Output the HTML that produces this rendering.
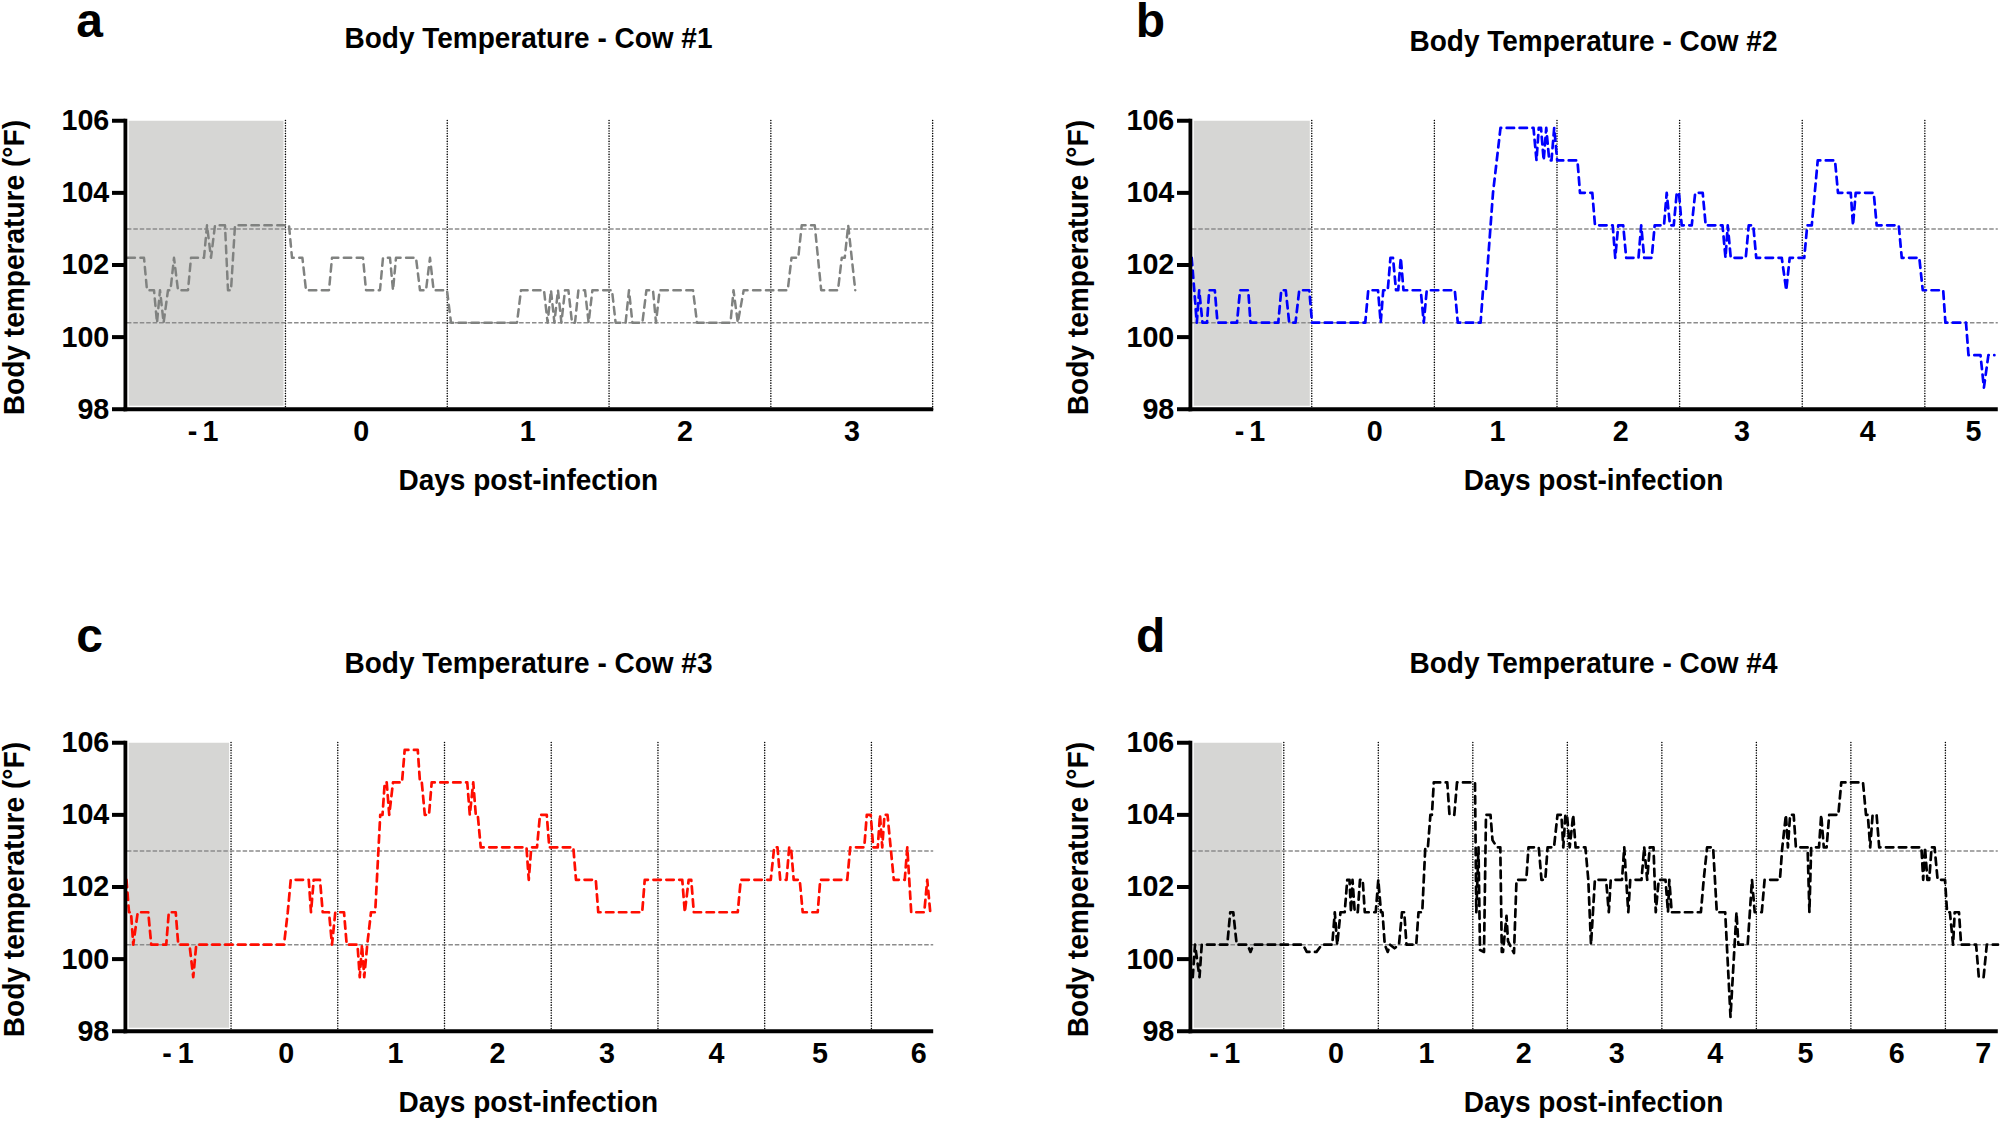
<!DOCTYPE html>
<html><head><meta charset="utf-8"><title>Body Temperature</title>
<style>html,body{margin:0;padding:0;background:#fff}svg{display:block}</style>
</head><body>
<svg width="2000" height="1121" viewBox="0 0 2000 1121">
<rect x="0" y="0" width="2000" height="1121" fill="#ffffff"/>
<rect x="128.80" y="120.75" width="154.70" height="284.98" fill="#d6d6d4"/>
<line x1="285.45" y1="120.50" x2="285.45" y2="409.23" stroke="#000" stroke-width="1.5" stroke-linecap="round" stroke-dasharray="0.1 2.5"/>
<line x1="447.25" y1="120.50" x2="447.25" y2="409.23" stroke="#000" stroke-width="1.5" stroke-linecap="round" stroke-dasharray="0.1 2.5"/>
<line x1="609.05" y1="120.50" x2="609.05" y2="409.23" stroke="#000" stroke-width="1.5" stroke-linecap="round" stroke-dasharray="0.1 2.5"/>
<line x1="770.85" y1="120.50" x2="770.85" y2="409.23" stroke="#000" stroke-width="1.5" stroke-linecap="round" stroke-dasharray="0.1 2.5"/>
<line x1="932.65" y1="120.50" x2="932.65" y2="409.23" stroke="#000" stroke-width="1.5" stroke-linecap="round" stroke-dasharray="0.1 2.5"/>
<line x1="126.90" y1="228.93" x2="933.20" y2="228.93" stroke="#8c8c8c" stroke-width="1.6" stroke-dasharray="4.5 1.93"/>
<line x1="126.90" y1="322.69" x2="933.20" y2="322.69" stroke="#8c8c8c" stroke-width="1.6" stroke-dasharray="4.5 1.93"/>
<path d="M127.50 257.78 L144.00 257.78 L147.00 290.23 L154.00 290.23 L157.00 322.69 L160.00 290.23 L163.60 322.69 L168.00 290.23 L170.50 290.23 L174.00 257.78 L178.00 290.23 L188.00 290.23 L191.00 257.78 L204.00 257.78 L207.00 225.32 L211.00 257.78 L215.00 225.32 L225.00 225.32 L228.00 290.23 L231.00 290.23 L235.00 225.32 L289.00 225.32 L292.00 257.78 L302.40 257.78 L306.00 290.23 L329.00 290.23 L332.00 257.78 L363.00 257.78 L366.00 290.23 L380.00 290.23 L383.00 257.78 L390.00 257.78 L393.00 290.23 L396.00 257.78 L416.00 257.78 L420.00 290.23 L426.00 290.23 L430.00 257.78 L433.60 290.23 L447.00 290.23 L451.00 322.69 L517.00 322.69 L521.00 290.23 L544.00 290.23 L547.60 322.69 L551.00 290.23 L554.40 322.69 L558.00 290.23 L561.40 322.69 L565.00 290.23 L568.40 290.23 L572.00 322.69 L575.00 322.69 L578.40 290.23 L585.00 290.23 L588.60 322.69 L592.40 290.23 L612.00 290.23 L615.60 322.69 L625.60 322.69 L629.00 290.23 L632.40 322.69 L642.40 322.69 L646.40 290.23 L653.00 290.23 L656.00 322.69 L659.60 290.23 L693.00 290.23 L697.00 322.69 L730.50 322.69 L733.50 290.23 L737.80 322.69 L743.70 290.23 L787.75 290.23 L791.50 257.78 L798.25 257.78 L801.70 225.32 L814.75 225.32 L821.20 290.23 L838.00 290.23 L841.75 257.78 L844.75 257.78 L848.20 225.32 L855.25 290.23" fill="none" stroke="#808280" stroke-width="2.50" stroke-dasharray="7.4 5.5" stroke-linecap="round" stroke-linejoin="round"/>
<line x1="125.40" y1="118.75" x2="125.40" y2="411.23" stroke="#000" stroke-width="3.8"/>
<line x1="123.50" y1="409.23" x2="933.20" y2="409.23" stroke="#000" stroke-width="4"/>
<line x1="112.00" y1="120.75" x2="125.40" y2="120.75" stroke="#000" stroke-width="4"/>
<text transform="translate(109.30 130.15) scale(1 1.060)" text-anchor="end" font-size="28.7" font-family="Liberation Sans, Arial, Helvetica, sans-serif" font-weight="bold">106</text>
<line x1="112.00" y1="192.87" x2="125.40" y2="192.87" stroke="#000" stroke-width="4"/>
<text transform="translate(109.30 202.27) scale(1 1.060)" text-anchor="end" font-size="28.7" font-family="Liberation Sans, Arial, Helvetica, sans-serif" font-weight="bold">104</text>
<line x1="112.00" y1="264.99" x2="125.40" y2="264.99" stroke="#000" stroke-width="4"/>
<text transform="translate(109.30 274.39) scale(1 1.060)" text-anchor="end" font-size="28.7" font-family="Liberation Sans, Arial, Helvetica, sans-serif" font-weight="bold">102</text>
<line x1="112.00" y1="337.11" x2="125.40" y2="337.11" stroke="#000" stroke-width="4"/>
<text transform="translate(109.30 346.51) scale(1 1.060)" text-anchor="end" font-size="28.7" font-family="Liberation Sans, Arial, Helvetica, sans-serif" font-weight="bold">100</text>
<line x1="112.00" y1="409.23" x2="125.40" y2="409.23" stroke="#000" stroke-width="4"/>
<text transform="translate(109.30 418.63) scale(1 1.060)" text-anchor="end" font-size="28.7" font-family="Liberation Sans, Arial, Helvetica, sans-serif" font-weight="bold">98</text>
<text transform="translate(0 440.50) scale(1 1.050)" font-size="28.7" font-family="Liberation Sans, Arial, Helvetica, sans-serif" font-weight="bold"><tspan x="187.85">- </tspan><tspan x="202.48">1</tspan></text>
<text transform="translate(361.30 440.50) scale(1 1.050)" text-anchor="middle" font-size="28.7" font-family="Liberation Sans, Arial, Helvetica, sans-serif" font-weight="bold">0</text>
<text transform="translate(527.60 440.50) scale(1 1.050)" text-anchor="middle" font-size="28.7" font-family="Liberation Sans, Arial, Helvetica, sans-serif" font-weight="bold">1</text>
<text transform="translate(685.00 440.50) scale(1 1.050)" text-anchor="middle" font-size="28.7" font-family="Liberation Sans, Arial, Helvetica, sans-serif" font-weight="bold">2</text>
<text transform="translate(852.00 440.50) scale(1 1.050)" text-anchor="middle" font-size="28.7" font-family="Liberation Sans, Arial, Helvetica, sans-serif" font-weight="bold">3</text>
<text transform="translate(398.50 490.00) scale(1 1.040)" font-size="28" font-family="Liberation Sans, Arial, Helvetica, sans-serif" font-weight="bold">Days post-infection</text>
<text transform="translate(23.50 267.59) rotate(-90) scale(1 1.040)" text-anchor="middle" font-size="28.1" font-family="Liberation Sans, Arial, Helvetica, sans-serif" font-weight="bold">Body temperature (°F)</text>
<text transform="translate(344.50 48.00) scale(1 1.040)" font-size="28" font-family="Liberation Sans, Arial, Helvetica, sans-serif" font-weight="bold">Body Temperature - Cow #1</text>
<text x="76.30" y="36.60" font-size="48" font-family="Liberation Sans, Arial, Helvetica, sans-serif" font-weight="bold">a</text>
<rect x="1193.80" y="120.75" width="116.00" height="284.98" fill="#d6d6d4"/>
<line x1="1311.75" y1="120.50" x2="1311.75" y2="409.23" stroke="#000" stroke-width="1.5" stroke-linecap="round" stroke-dasharray="0.1 2.5"/>
<line x1="1434.37" y1="120.50" x2="1434.37" y2="409.23" stroke="#000" stroke-width="1.5" stroke-linecap="round" stroke-dasharray="0.1 2.5"/>
<line x1="1556.99" y1="120.50" x2="1556.99" y2="409.23" stroke="#000" stroke-width="1.5" stroke-linecap="round" stroke-dasharray="0.1 2.5"/>
<line x1="1679.61" y1="120.50" x2="1679.61" y2="409.23" stroke="#000" stroke-width="1.5" stroke-linecap="round" stroke-dasharray="0.1 2.5"/>
<line x1="1802.23" y1="120.50" x2="1802.23" y2="409.23" stroke="#000" stroke-width="1.5" stroke-linecap="round" stroke-dasharray="0.1 2.5"/>
<line x1="1924.85" y1="120.50" x2="1924.85" y2="409.23" stroke="#000" stroke-width="1.5" stroke-linecap="round" stroke-dasharray="0.1 2.5"/>
<line x1="1191.90" y1="228.93" x2="1997.80" y2="228.93" stroke="#8c8c8c" stroke-width="1.6" stroke-dasharray="4.5 1.93"/>
<line x1="1191.90" y1="322.69" x2="1997.80" y2="322.69" stroke="#8c8c8c" stroke-width="1.6" stroke-dasharray="4.5 1.93"/>
<path d="M1191.70 257.78 L1196.80 322.69 L1199.20 290.23 L1202.50 322.69 L1207.00 322.69 L1209.25 290.23 L1214.80 290.23 L1217.50 322.69 L1237.00 322.69 L1240.00 290.23 L1248.25 290.23 L1250.50 322.69 L1278.25 322.69 L1281.25 290.23 L1285.75 290.23 L1289.20 322.69 L1295.50 322.69 L1299.25 290.23 L1309.30 290.23 L1312.00 322.69 L1365.25 322.69 L1368.25 290.23 L1378.00 290.23 L1380.70 322.69 L1383.25 290.23 L1387.75 290.23 L1390.45 257.78 L1393.00 257.78 L1396.00 290.23 L1398.25 290.23 L1400.80 257.78 L1403.50 290.23 L1420.75 290.23 L1423.75 322.69 L1426.75 290.23 L1454.80 290.23 L1457.80 322.69 L1480.60 322.69 L1483.00 290.23 L1485.80 290.23 L1493.00 192.87 L1500.50 127.96 L1533.50 127.96 L1536.50 160.42 L1538.75 127.96 L1541.00 127.96 L1543.70 160.42 L1546.25 127.96 L1549.25 160.42 L1551.50 160.42 L1554.20 127.96 L1557.20 160.42 L1577.45 160.42 L1580.00 192.87 L1592.30 192.87 L1595.00 225.32 L1612.70 225.32 L1615.25 257.78 L1618.25 225.32 L1623.20 225.32 L1626.20 257.78 L1638.50 257.78 L1641.20 225.32 L1644.20 257.78 L1651.70 257.78 L1654.70 225.32 L1664.00 225.32 L1666.70 192.87 L1670.00 225.32 L1673.75 225.32 L1676.75 192.87 L1679.00 192.87 L1681.70 225.32 L1691.75 225.32 L1695.20 192.87 L1702.70 192.87 L1705.70 225.32 L1722.50 225.32 L1725.50 257.78 L1727.75 225.32 L1730.75 257.78 L1745.75 257.78 L1748.75 225.32 L1753.25 225.32 L1756.25 257.78 L1781.75 257.78 L1786.25 290.23 L1789.70 257.78 L1804.25 257.78 L1807.25 225.32 L1811.75 225.32 L1817.75 160.42 L1835.00 160.42 L1838.00 192.87 L1850.75 192.87 L1853.00 225.32 L1855.70 192.87 L1873.70 192.87 L1876.70 225.32 L1898.75 225.32 L1901.75 257.78 L1919.30 257.78 L1922.75 290.23 L1943.20 290.23 L1945.40 322.69 L1966.00 322.69 L1968.50 355.14 L1980.50 355.14 L1983.90 387.59 L1988.40 355.14 L1994.40 355.14" fill="none" stroke="#0000ff" stroke-width="2.70" stroke-dasharray="7.4 5.5" stroke-linecap="round" stroke-linejoin="round"/>
<line x1="1190.40" y1="118.75" x2="1190.40" y2="411.23" stroke="#000" stroke-width="3.8"/>
<line x1="1188.50" y1="409.23" x2="1997.80" y2="409.23" stroke="#000" stroke-width="4"/>
<line x1="1177.00" y1="120.75" x2="1190.40" y2="120.75" stroke="#000" stroke-width="4"/>
<text transform="translate(1174.30 130.15) scale(1 1.060)" text-anchor="end" font-size="28.7" font-family="Liberation Sans, Arial, Helvetica, sans-serif" font-weight="bold">106</text>
<line x1="1177.00" y1="192.87" x2="1190.40" y2="192.87" stroke="#000" stroke-width="4"/>
<text transform="translate(1174.30 202.27) scale(1 1.060)" text-anchor="end" font-size="28.7" font-family="Liberation Sans, Arial, Helvetica, sans-serif" font-weight="bold">104</text>
<line x1="1177.00" y1="264.99" x2="1190.40" y2="264.99" stroke="#000" stroke-width="4"/>
<text transform="translate(1174.30 274.39) scale(1 1.060)" text-anchor="end" font-size="28.7" font-family="Liberation Sans, Arial, Helvetica, sans-serif" font-weight="bold">102</text>
<line x1="1177.00" y1="337.11" x2="1190.40" y2="337.11" stroke="#000" stroke-width="4"/>
<text transform="translate(1174.30 346.51) scale(1 1.060)" text-anchor="end" font-size="28.7" font-family="Liberation Sans, Arial, Helvetica, sans-serif" font-weight="bold">100</text>
<line x1="1177.00" y1="409.23" x2="1190.40" y2="409.23" stroke="#000" stroke-width="4"/>
<text transform="translate(1174.30 418.63) scale(1 1.060)" text-anchor="end" font-size="28.7" font-family="Liberation Sans, Arial, Helvetica, sans-serif" font-weight="bold">98</text>
<text transform="translate(0 440.50) scale(1 1.050)" font-size="28.7" font-family="Liberation Sans, Arial, Helvetica, sans-serif" font-weight="bold"><tspan x="1234.85">- </tspan><tspan x="1249.28">1</tspan></text>
<text transform="translate(1374.60 440.50) scale(1 1.050)" text-anchor="middle" font-size="28.7" font-family="Liberation Sans, Arial, Helvetica, sans-serif" font-weight="bold">0</text>
<text transform="translate(1497.50 440.50) scale(1 1.050)" text-anchor="middle" font-size="28.7" font-family="Liberation Sans, Arial, Helvetica, sans-serif" font-weight="bold">1</text>
<text transform="translate(1620.60 440.50) scale(1 1.050)" text-anchor="middle" font-size="28.7" font-family="Liberation Sans, Arial, Helvetica, sans-serif" font-weight="bold">2</text>
<text transform="translate(1742.00 440.50) scale(1 1.050)" text-anchor="middle" font-size="28.7" font-family="Liberation Sans, Arial, Helvetica, sans-serif" font-weight="bold">3</text>
<text transform="translate(1867.60 440.50) scale(1 1.050)" text-anchor="middle" font-size="28.7" font-family="Liberation Sans, Arial, Helvetica, sans-serif" font-weight="bold">4</text>
<text transform="translate(1973.40 440.50) scale(1 1.050)" text-anchor="middle" font-size="28.7" font-family="Liberation Sans, Arial, Helvetica, sans-serif" font-weight="bold">5</text>
<text transform="translate(1463.70 490.00) scale(1 1.040)" font-size="28" font-family="Liberation Sans, Arial, Helvetica, sans-serif" font-weight="bold">Days post-infection</text>
<text transform="translate(1088.00 267.59) rotate(-90) scale(1 1.040)" text-anchor="middle" font-size="28.1" font-family="Liberation Sans, Arial, Helvetica, sans-serif" font-weight="bold">Body temperature (°F)</text>
<text transform="translate(1409.50 51.00) scale(1 1.040)" font-size="28" font-family="Liberation Sans, Arial, Helvetica, sans-serif" font-weight="bold">Body Temperature - Cow #2</text>
<text x="1135.70" y="36.60" font-size="48" font-family="Liberation Sans, Arial, Helvetica, sans-serif" font-weight="bold">b</text>
<rect x="128.80" y="742.75" width="100.30" height="284.98" fill="#d6d6d4"/>
<line x1="231.04" y1="742.50" x2="231.04" y2="1031.23" stroke="#000" stroke-width="1.5" stroke-linecap="round" stroke-dasharray="0.1 2.5"/>
<line x1="337.77" y1="742.50" x2="337.77" y2="1031.23" stroke="#000" stroke-width="1.5" stroke-linecap="round" stroke-dasharray="0.1 2.5"/>
<line x1="444.50" y1="742.50" x2="444.50" y2="1031.23" stroke="#000" stroke-width="1.5" stroke-linecap="round" stroke-dasharray="0.1 2.5"/>
<line x1="551.23" y1="742.50" x2="551.23" y2="1031.23" stroke="#000" stroke-width="1.5" stroke-linecap="round" stroke-dasharray="0.1 2.5"/>
<line x1="657.96" y1="742.50" x2="657.96" y2="1031.23" stroke="#000" stroke-width="1.5" stroke-linecap="round" stroke-dasharray="0.1 2.5"/>
<line x1="764.69" y1="742.50" x2="764.69" y2="1031.23" stroke="#000" stroke-width="1.5" stroke-linecap="round" stroke-dasharray="0.1 2.5"/>
<line x1="871.42" y1="742.50" x2="871.42" y2="1031.23" stroke="#000" stroke-width="1.5" stroke-linecap="round" stroke-dasharray="0.1 2.5"/>
<line x1="126.90" y1="850.93" x2="933.20" y2="850.93" stroke="#8c8c8c" stroke-width="1.6" stroke-dasharray="4.5 1.93"/>
<line x1="126.90" y1="944.69" x2="933.20" y2="944.69" stroke="#8c8c8c" stroke-width="1.6" stroke-dasharray="4.5 1.93"/>
<path d="M126.50 879.78 L129.00 912.23 L131.00 912.23 L133.25 944.69 L137.75 912.23 L148.25 912.23 L151.25 944.69 L166.25 944.69 L168.80 912.23 L175.70 912.23 L178.25 944.69 L189.50 944.69 L193.25 977.14 L196.25 944.69 L284.00 944.69 L287.75 912.23 L290.75 879.78 L308.75 879.78 L311.00 912.23 L313.70 879.78 L320.00 879.78 L322.70 912.23 L329.00 912.23 L332.00 944.69 L335.30 912.23 L344.00 912.23 L346.70 944.69 L357.50 944.69 L359.75 977.14 L362.00 944.69 L364.25 977.14 L367.25 944.69 L371.00 912.23 L375.20 912.23 L380.25 814.87 L382.50 814.87 L384.75 782.42 L386.70 782.42 L389.25 814.87 L393.00 782.42 L402.00 782.42 L404.70 749.96 L417.75 749.96 L420.00 782.42 L421.80 782.42 L424.80 814.87 L429.00 814.87 L431.70 782.42 L467.25 782.42 L469.80 814.87 L473.25 782.42 L475.80 814.87 L477.75 814.87 L480.75 847.32 L526.50 847.32 L528.75 879.78 L531.30 847.32 L537.00 847.32 L540.00 814.87 L546.75 814.87 L549.30 847.32 L573.30 847.32 L576.00 879.78 L595.80 879.78 L598.25 912.23 L642.20 912.23 L644.75 879.78 L682.25 879.78 L684.80 912.23 L688.70 879.78 L691.25 879.78 L693.80 912.23 L737.75 912.23 L740.75 879.78 L770.75 879.78 L774.20 847.32 L777.50 847.32 L780.20 879.78 L786.50 879.78 L789.20 847.32 L791.00 847.32 L793.70 879.78 L799.70 879.78 L802.70 912.23 L817.70 912.23 L820.25 879.78 L847.25 879.78 L850.25 847.32 L864.25 847.32 L866.80 814.87 L870.70 814.87 L873.25 847.32 L877.75 847.32 L880.00 814.87 L882.25 847.32 L884.50 814.87 L887.50 814.87 L893.80 879.78 L904.75 879.78 L907.30 847.32 L911.20 912.23 L924.25 912.23 L927.25 879.78 L930.25 912.23 L932.50 912.23" fill="none" stroke="#ff0d00" stroke-width="2.70" stroke-dasharray="7.4 5.5" stroke-linecap="round" stroke-linejoin="round"/>
<line x1="125.40" y1="740.75" x2="125.40" y2="1033.23" stroke="#000" stroke-width="3.8"/>
<line x1="123.50" y1="1031.23" x2="933.20" y2="1031.23" stroke="#000" stroke-width="4"/>
<line x1="112.00" y1="742.75" x2="125.40" y2="742.75" stroke="#000" stroke-width="4"/>
<text transform="translate(109.30 752.15) scale(1 1.060)" text-anchor="end" font-size="28.7" font-family="Liberation Sans, Arial, Helvetica, sans-serif" font-weight="bold">106</text>
<line x1="112.00" y1="814.87" x2="125.40" y2="814.87" stroke="#000" stroke-width="4"/>
<text transform="translate(109.30 824.27) scale(1 1.060)" text-anchor="end" font-size="28.7" font-family="Liberation Sans, Arial, Helvetica, sans-serif" font-weight="bold">104</text>
<line x1="112.00" y1="886.99" x2="125.40" y2="886.99" stroke="#000" stroke-width="4"/>
<text transform="translate(109.30 896.39) scale(1 1.060)" text-anchor="end" font-size="28.7" font-family="Liberation Sans, Arial, Helvetica, sans-serif" font-weight="bold">102</text>
<line x1="112.00" y1="959.11" x2="125.40" y2="959.11" stroke="#000" stroke-width="4"/>
<text transform="translate(109.30 968.51) scale(1 1.060)" text-anchor="end" font-size="28.7" font-family="Liberation Sans, Arial, Helvetica, sans-serif" font-weight="bold">100</text>
<line x1="112.00" y1="1031.23" x2="125.40" y2="1031.23" stroke="#000" stroke-width="4"/>
<text transform="translate(109.30 1040.63) scale(1 1.060)" text-anchor="end" font-size="28.7" font-family="Liberation Sans, Arial, Helvetica, sans-serif" font-weight="bold">98</text>
<text transform="translate(0 1063.00) scale(1 1.050)" font-size="28.7" font-family="Liberation Sans, Arial, Helvetica, sans-serif" font-weight="bold"><tspan x="162.25">- </tspan><tspan x="177.68">1</tspan></text>
<text transform="translate(286.10 1063.00) scale(1 1.050)" text-anchor="middle" font-size="28.7" font-family="Liberation Sans, Arial, Helvetica, sans-serif" font-weight="bold">0</text>
<text transform="translate(395.40 1063.00) scale(1 1.050)" text-anchor="middle" font-size="28.7" font-family="Liberation Sans, Arial, Helvetica, sans-serif" font-weight="bold">1</text>
<text transform="translate(497.40 1063.00) scale(1 1.050)" text-anchor="middle" font-size="28.7" font-family="Liberation Sans, Arial, Helvetica, sans-serif" font-weight="bold">2</text>
<text transform="translate(607.00 1063.00) scale(1 1.050)" text-anchor="middle" font-size="28.7" font-family="Liberation Sans, Arial, Helvetica, sans-serif" font-weight="bold">3</text>
<text transform="translate(716.50 1063.00) scale(1 1.050)" text-anchor="middle" font-size="28.7" font-family="Liberation Sans, Arial, Helvetica, sans-serif" font-weight="bold">4</text>
<text transform="translate(820.00 1063.00) scale(1 1.050)" text-anchor="middle" font-size="28.7" font-family="Liberation Sans, Arial, Helvetica, sans-serif" font-weight="bold">5</text>
<text transform="translate(918.60 1063.00) scale(1 1.050)" text-anchor="middle" font-size="28.7" font-family="Liberation Sans, Arial, Helvetica, sans-serif" font-weight="bold">6</text>
<text transform="translate(398.50 1112.00) scale(1 1.040)" font-size="28" font-family="Liberation Sans, Arial, Helvetica, sans-serif" font-weight="bold">Days post-infection</text>
<text transform="translate(23.50 889.59) rotate(-90) scale(1 1.040)" text-anchor="middle" font-size="28.1" font-family="Liberation Sans, Arial, Helvetica, sans-serif" font-weight="bold">Body temperature (°F)</text>
<text transform="translate(344.50 673.00) scale(1 1.040)" font-size="28" font-family="Liberation Sans, Arial, Helvetica, sans-serif" font-weight="bold">Body Temperature - Cow #3</text>
<text x="76.20" y="652.45" font-size="48" font-family="Liberation Sans, Arial, Helvetica, sans-serif" font-weight="bold">c</text>
<rect x="1193.80" y="742.75" width="88.05" height="284.98" fill="#d6d6d4"/>
<line x1="1283.80" y1="742.50" x2="1283.80" y2="1031.23" stroke="#000" stroke-width="1.5" stroke-linecap="round" stroke-dasharray="0.1 2.5"/>
<line x1="1378.31" y1="742.50" x2="1378.31" y2="1031.23" stroke="#000" stroke-width="1.5" stroke-linecap="round" stroke-dasharray="0.1 2.5"/>
<line x1="1472.83" y1="742.50" x2="1472.83" y2="1031.23" stroke="#000" stroke-width="1.5" stroke-linecap="round" stroke-dasharray="0.1 2.5"/>
<line x1="1567.34" y1="742.50" x2="1567.34" y2="1031.23" stroke="#000" stroke-width="1.5" stroke-linecap="round" stroke-dasharray="0.1 2.5"/>
<line x1="1661.86" y1="742.50" x2="1661.86" y2="1031.23" stroke="#000" stroke-width="1.5" stroke-linecap="round" stroke-dasharray="0.1 2.5"/>
<line x1="1756.37" y1="742.50" x2="1756.37" y2="1031.23" stroke="#000" stroke-width="1.5" stroke-linecap="round" stroke-dasharray="0.1 2.5"/>
<line x1="1850.89" y1="742.50" x2="1850.89" y2="1031.23" stroke="#000" stroke-width="1.5" stroke-linecap="round" stroke-dasharray="0.1 2.5"/>
<line x1="1945.40" y1="742.50" x2="1945.40" y2="1031.23" stroke="#000" stroke-width="1.5" stroke-linecap="round" stroke-dasharray="0.1 2.5"/>
<line x1="1191.90" y1="850.93" x2="1997.80" y2="850.93" stroke="#8c8c8c" stroke-width="1.6" stroke-dasharray="4.5 1.93"/>
<line x1="1191.90" y1="944.69" x2="1997.80" y2="944.69" stroke="#8c8c8c" stroke-width="1.6" stroke-dasharray="4.5 1.93"/>
<path d="M1192.75 977.14 L1195.00 944.69 L1199.50 977.14 L1201.75 944.69 L1227.25 944.69 L1230.25 912.23 L1233.25 912.23 L1236.70 944.69 L1247.50 944.69 L1250.50 951.90 L1253.50 944.69 L1303.00 944.69 L1306.75 951.90 L1316.50 951.90 L1321.75 944.69 L1332.25 944.69 L1334.80 912.23 L1337.20 944.69 L1340.50 912.23 L1344.70 912.23 L1347.25 879.78 L1349.50 879.78 L1351.00 912.23 L1352.50 879.78 L1354.75 912.23 L1357.75 912.23 L1360.00 879.78 L1362.70 879.78 L1364.80 912.23 L1375.75 912.23 L1378.30 879.78 L1381.00 912.23 L1382.50 912.23 L1384.75 944.69 L1387.75 951.90 L1390.00 944.69 L1394.50 948.29 L1399.00 944.69 L1402.00 912.23 L1404.25 912.23 L1406.50 944.69 L1416.25 944.69 L1418.50 912.23 L1422.25 912.23 L1425.30 847.32 L1427.90 847.32 L1430.40 814.87 L1431.90 814.87 L1433.80 782.42 L1447.25 782.42 L1449.50 814.87 L1454.30 814.87 L1457.00 782.42 L1475.00 782.42 L1476.30 912.23 L1478.50 847.32 L1480.00 950.10 L1484.00 951.90 L1486.00 814.87 L1490.50 814.87 L1492.50 840.11 L1497.00 847.32 L1500.30 847.32 L1501.80 951.90 L1503.00 951.90 L1506.50 915.84 L1508.00 941.08 L1511.40 948.29 L1514.00 952.98 L1516.50 879.78 L1526.30 879.78 L1528.50 847.32 L1538.75 847.32 L1541.50 879.78 L1545.30 879.78 L1547.60 847.32 L1554.00 847.32 L1557.50 814.87 L1561.40 814.87 L1563.30 847.32 L1565.40 814.87 L1567.00 814.87 L1569.70 847.32 L1573.20 814.87 L1575.60 847.32 L1585.40 847.32 L1588.30 879.78 L1591.00 944.69 L1594.90 879.78 L1606.10 879.78 L1608.80 912.23 L1610.75 879.78 L1622.00 879.78 L1624.25 847.32 L1626.20 879.78 L1628.30 912.23 L1630.25 879.78 L1641.50 879.78 L1644.20 847.32 L1647.20 879.78 L1649.75 847.32 L1653.50 847.32 L1655.75 912.23 L1658.75 879.78 L1665.50 879.78 L1668.00 912.23 L1669.30 879.78 L1671.70 912.23 L1700.90 912.23 L1703.70 879.78 L1707.10 847.32 L1713.10 847.32 L1716.80 912.23 L1725.20 912.23 L1730.50 1016.81 L1734.60 944.69 L1736.50 912.23 L1738.40 944.69 L1747.70 944.69 L1752.00 879.78 L1754.70 912.23 L1761.80 912.23 L1764.60 879.78 L1779.90 879.78 L1782.30 847.32 L1785.90 814.87 L1787.90 847.32 L1790.10 814.87 L1793.70 814.87 L1795.90 847.32 L1807.60 847.32 L1809.40 912.23 L1811.20 847.32 L1819.00 847.32 L1821.20 814.87 L1823.80 847.32 L1826.60 847.32 L1829.20 814.87 L1838.30 814.87 L1841.30 782.42 L1863.00 782.42 L1866.00 814.87 L1867.80 814.87 L1870.20 847.32 L1872.60 814.87 L1876.60 814.87 L1879.20 847.32 L1921.40 847.32 L1923.20 879.78 L1925.00 847.32 L1927.40 879.78 L1929.20 879.78 L1931.60 847.32 L1934.60 847.32 L1937.60 879.78 L1945.00 879.78 L1947.10 912.23 L1949.90 912.23 L1953.10 944.69 L1954.70 912.23 L1959.00 912.23 L1961.10 944.69 L1976.10 944.69 L1978.80 977.14 L1983.60 977.14 L1986.80 944.69 L1998.00 944.69" fill="none" stroke="#000000" stroke-width="2.70" stroke-dasharray="7.4 5.5" stroke-linecap="round" stroke-linejoin="round"/>
<line x1="1190.40" y1="740.75" x2="1190.40" y2="1033.23" stroke="#000" stroke-width="3.8"/>
<line x1="1188.50" y1="1031.23" x2="1997.80" y2="1031.23" stroke="#000" stroke-width="4"/>
<line x1="1177.00" y1="742.75" x2="1190.40" y2="742.75" stroke="#000" stroke-width="4"/>
<text transform="translate(1174.30 752.15) scale(1 1.060)" text-anchor="end" font-size="28.7" font-family="Liberation Sans, Arial, Helvetica, sans-serif" font-weight="bold">106</text>
<line x1="1177.00" y1="814.87" x2="1190.40" y2="814.87" stroke="#000" stroke-width="4"/>
<text transform="translate(1174.30 824.27) scale(1 1.060)" text-anchor="end" font-size="28.7" font-family="Liberation Sans, Arial, Helvetica, sans-serif" font-weight="bold">104</text>
<line x1="1177.00" y1="886.99" x2="1190.40" y2="886.99" stroke="#000" stroke-width="4"/>
<text transform="translate(1174.30 896.39) scale(1 1.060)" text-anchor="end" font-size="28.7" font-family="Liberation Sans, Arial, Helvetica, sans-serif" font-weight="bold">102</text>
<line x1="1177.00" y1="959.11" x2="1190.40" y2="959.11" stroke="#000" stroke-width="4"/>
<text transform="translate(1174.30 968.51) scale(1 1.060)" text-anchor="end" font-size="28.7" font-family="Liberation Sans, Arial, Helvetica, sans-serif" font-weight="bold">100</text>
<line x1="1177.00" y1="1031.23" x2="1190.40" y2="1031.23" stroke="#000" stroke-width="4"/>
<text transform="translate(1174.30 1040.63) scale(1 1.060)" text-anchor="end" font-size="28.7" font-family="Liberation Sans, Arial, Helvetica, sans-serif" font-weight="bold">98</text>
<text transform="translate(0 1063.00) scale(1 1.050)" font-size="28.7" font-family="Liberation Sans, Arial, Helvetica, sans-serif" font-weight="bold"><tspan x="1209.25">- </tspan><tspan x="1224.18">1</tspan></text>
<text transform="translate(1336.00 1063.00) scale(1 1.050)" text-anchor="middle" font-size="28.7" font-family="Liberation Sans, Arial, Helvetica, sans-serif" font-weight="bold">0</text>
<text transform="translate(1426.50 1063.00) scale(1 1.050)" text-anchor="middle" font-size="28.7" font-family="Liberation Sans, Arial, Helvetica, sans-serif" font-weight="bold">1</text>
<text transform="translate(1523.60 1063.00) scale(1 1.050)" text-anchor="middle" font-size="28.7" font-family="Liberation Sans, Arial, Helvetica, sans-serif" font-weight="bold">2</text>
<text transform="translate(1616.60 1063.00) scale(1 1.050)" text-anchor="middle" font-size="28.7" font-family="Liberation Sans, Arial, Helvetica, sans-serif" font-weight="bold">3</text>
<text transform="translate(1715.20 1063.00) scale(1 1.050)" text-anchor="middle" font-size="28.7" font-family="Liberation Sans, Arial, Helvetica, sans-serif" font-weight="bold">4</text>
<text transform="translate(1805.40 1063.00) scale(1 1.050)" text-anchor="middle" font-size="28.7" font-family="Liberation Sans, Arial, Helvetica, sans-serif" font-weight="bold">5</text>
<text transform="translate(1896.60 1063.00) scale(1 1.050)" text-anchor="middle" font-size="28.7" font-family="Liberation Sans, Arial, Helvetica, sans-serif" font-weight="bold">6</text>
<text transform="translate(1983.20 1063.00) scale(1 1.050)" text-anchor="middle" font-size="28.7" font-family="Liberation Sans, Arial, Helvetica, sans-serif" font-weight="bold">7</text>
<text transform="translate(1463.70 1112.00) scale(1 1.040)" font-size="28" font-family="Liberation Sans, Arial, Helvetica, sans-serif" font-weight="bold">Days post-infection</text>
<text transform="translate(1088.00 889.59) rotate(-90) scale(1 1.040)" text-anchor="middle" font-size="28.1" font-family="Liberation Sans, Arial, Helvetica, sans-serif" font-weight="bold">Body temperature (°F)</text>
<text transform="translate(1409.50 673.00) scale(1 1.040)" font-size="28" font-family="Liberation Sans, Arial, Helvetica, sans-serif" font-weight="bold">Body Temperature - Cow #4</text>
<text x="1135.90" y="652.45" font-size="48" font-family="Liberation Sans, Arial, Helvetica, sans-serif" font-weight="bold">d</text>
</svg>
</body></html>
